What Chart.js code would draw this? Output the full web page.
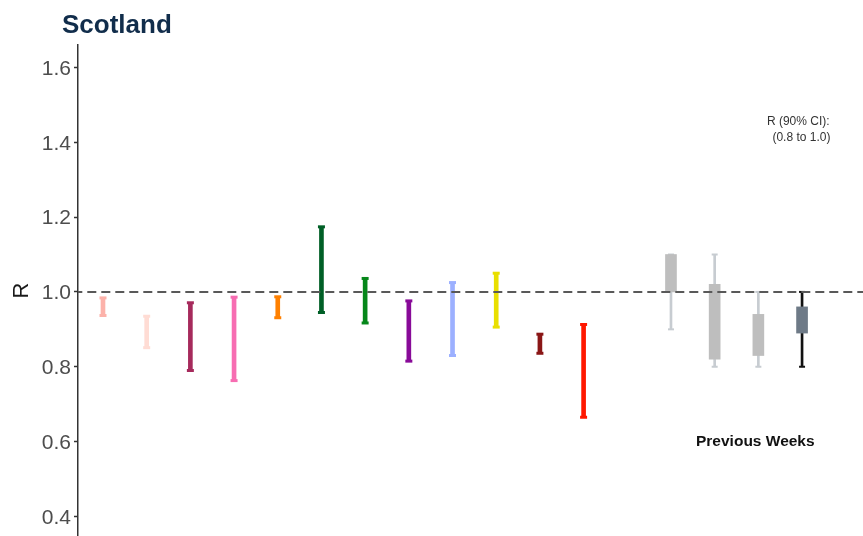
<!DOCTYPE html>
<html>
<head>
<meta charset="utf-8">
<title>Scotland R estimates</title>
<script src="https://cdn.jsdelivr.net/npm/chart.js@4.4.1/dist/chart.umd.min.js"></script>
<style>
  html, body { margin: 0; padding: 0; background: #ffffff; }
  #wrap { width: 863px; height: 536px; }
</style>
</head>
<body>
<div id="wrap"><canvas id="chart" width="863" height="536"></canvas></div>
<script>
// ---- data -------------------------------------------------------------
const modelNames = ['Model A', 'Model B', 'Model C', 'Model D', 'Model E', 'Model F',
                    'Model G', 'Model H', 'Model I', 'Model J', 'Model K', 'Model L'];
const modelLow  = [0.937, 0.851, 0.790, 0.763, 0.931, 0.945, 0.917, 0.815, 0.830, 0.906, 0.836, 0.665];
const modelHigh = [0.984, 0.935, 0.971, 0.986, 0.987, 1.174, 1.036, 0.976, 1.025, 1.050, 0.887, 0.913];
const modelColors = ['#FCB2AA', '#FFDCD4', '#A62A5C', '#F76DB2', '#FF8000', '#005F26',
                     '#06871A', '#880A98', '#9CB0FF', '#E9DF00', '#8A1616', '#FF1800'];

const weekNames = ['Week -4', 'Week -3', 'Week -2', 'Week -1'];
const weekLow  = [0.90, 0.80, 0.80, 0.80];
const weekHigh = [1.10, 1.10, 1.00, 1.00];
const boxLow   = [1.00, 0.82, 0.83, 0.89];
const boxHigh  = [1.10, 1.02, 0.94, 0.96];

const yTicks = [0.4, 0.6, 0.8, 1.0, 1.2, 1.4, 1.6];
const referenceR = 1.0;

// ---- layout helpers ----------------------------------------------------
// models occupy slots 0..11, previous weeks slots 13..16
const modelX = modelNames.map((_, i) => i);
const weekX = weekNames.map((_, i) => 13 + i);

const whiskerColors = ['#C7CCD1', '#C7CCD1', '#C7CCD1', '#111111'];
const boxColors = ['#BEBEBE', '#BEBEBE', '#BEBEBE', '#6E7A87'];

const FONT = '"Liberation Sans", Arial, Helvetica, sans-serif';

// text drawn on top of the plot (title and annotations)
const annotate = {
  id: 'annotate',
  afterDraw(chart) {
    const { ctx, chartArea, scales } = chart;
    const xs = scales.x, ys = scales.y;
    ctx.save();
    // title
    ctx.font = 'bold 26px ' + FONT;
    ctx.fillStyle = '#112D4B';
    ctx.textAlign = 'left';
    ctx.textBaseline = 'alphabetic';
    ctx.fillText('Scotland', chartArea.left - 16, 33);

    // interval summary
    ctx.font = '12px ' + FONT;
    ctx.fillStyle = '#333333';
    ctx.textAlign = 'right';
    ctx.textBaseline = 'middle';
    ctx.fillText('R (90% CI):', xs.getPixelForValue(16.63), ys.getPixelForValue(1.455));
    ctx.fillText('(0.8 to 1.0)', xs.getPixelForValue(16.65), ys.getPixelForValue(1.411));

    // group label
    ctx.font = 'bold 15.5px ' + FONT;
    ctx.fillStyle = '#111111';
    ctx.textAlign = 'center';
    ctx.fillText('Previous Weeks', xs.getPixelForValue(14.93), ys.getPixelForValue(0.6));
    ctx.restore();
  }
};

const capPoints = (xs, lo, hi) => xs.flatMap((x, i) => [{ x, y: lo[i] }, { x, y: hi[i] }]);
const capColors = (cols) => cols.flatMap(c => [c, c]);

new Chart(document.getElementById('chart'), {
  type: 'bar',
  data: {
    datasets: [
      // dashed reference line at R = 1
      {
        type: 'line',
        data: [{ x: -1, y: referenceR }, { x: 18, y: referenceR }],
        borderColor: '#595959',
        borderWidth: 2,
        borderDash: [9, 5],
        pointRadius: 0,
        fill: false,
        order: 0
      },
      // previous-week interquartile boxes
      {
        type: 'bar',
        data: weekX.map((x, i) => ({ x, y: [boxLow[i], boxHigh[i]] })),
        backgroundColor: boxColors,
        barThickness: 11,
        grouped: false,
        order: 1
      },
      // previous-week whisker caps
      {
        type: 'scatter',
        data: capPoints(weekX, weekLow, weekHigh),
        pointStyle: 'line',
        pointRadius: 3,
        pointBorderWidth: 2,
        pointBorderColor: capColors(whiskerColors),
        showLine: false,
        order: 2
      },
      // previous-week whiskers
      {
        type: 'bar',
        data: weekX.map((x, i) => ({ x, y: [weekLow[i], weekHigh[i]] })),
        backgroundColor: whiskerColors,
        barThickness: 2,
        grouped: false,
        order: 3
      },
      // model interval caps
      {
        type: 'scatter',
        data: capPoints(modelX, modelLow, modelHigh),
        pointStyle: 'line',
        pointRadius: 3.5,
        pointBorderWidth: 3,
        pointBorderColor: capColors(modelColors),
        showLine: false,
        order: 2
      },
      // model intervals
      {
        type: 'bar',
        data: modelX.map((x, i) => ({ x, y: [modelLow[i], modelHigh[i]] })),
        backgroundColor: modelColors,
        barThickness: 4,
        grouped: false,
        order: 3
      }
    ]
  },
  options: {
    responsive: false,
    animation: false,
    events: [],
    devicePixelRatio: 1,
    layout: { autoPadding: false, padding: { top: 45, left: 0, right: 0, bottom: 0 } },
    plugins: {
      legend: { display: false },
      tooltip: { enabled: false },
      title: { display: false }
    },
    scales: {
      x: {
        type: 'linear',
        min: -0.572,
        max: 17.395,
        offset: false,
        display: false
      },
      y: {
        type: 'linear',
        min: 0.3476,
        max: 1.66,
        afterBuildTicks(scale) { scale.ticks = yTicks.map(v => ({ value: v })); },
        afterFit(scale) {
          scale.width = 78;
          scale.paddingTop = 0;
          scale.paddingBottom = 0;
        },
        ticks: {
          callback: v => Number(v).toFixed(1),
          color: '#4D4D4D',
          font: { family: FONT, size: 21 },
          padding: 3,
          labelOffset: 1.5
        },
        grid: {
          display: true,
          drawOnChartArea: false,
          drawTicks: true,
          tickLength: 4,
          tickColor: '#333333',
          tickWidth: 1.5
        },
        border: { display: true, color: '#333333', width: 1.5 },
        title: {
          display: true,
          text: 'R',
          color: '#1A1A1A',
          font: { family: FONT, size: 22 },
          padding: { top: 9, bottom: 0 }
        }
      }
    }
  },
  plugins: [annotate]
});
</script>
</body>
</html>
